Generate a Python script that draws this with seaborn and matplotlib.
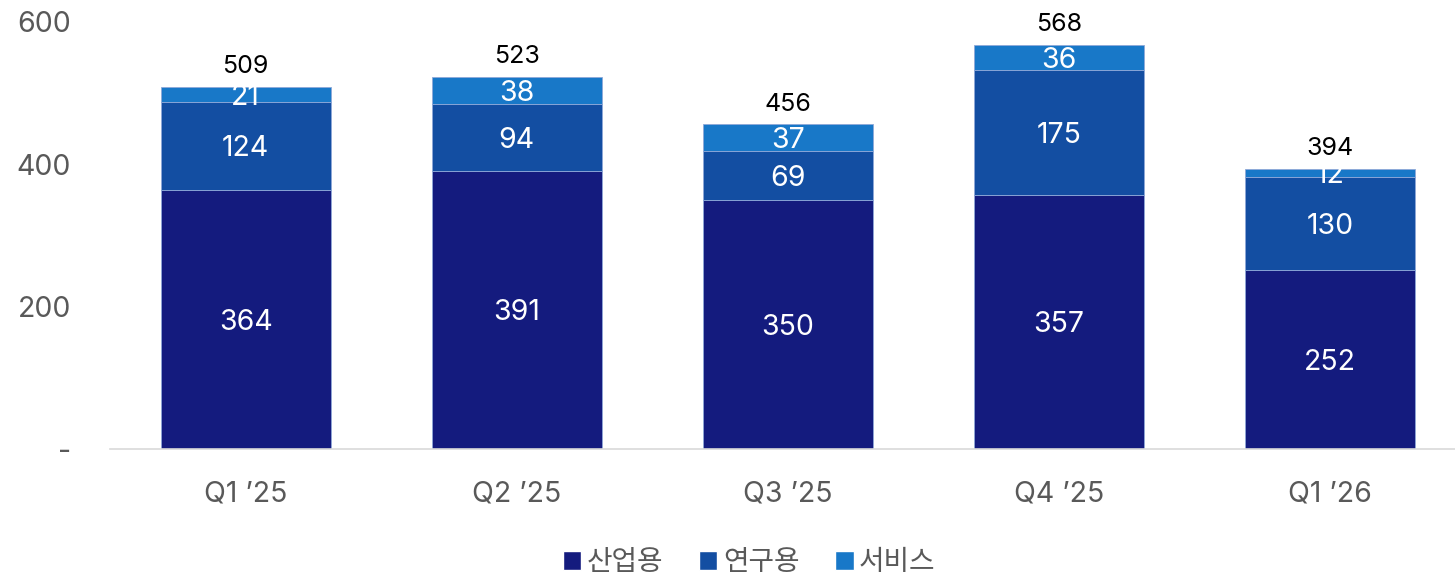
import matplotlib
matplotlib.use("Agg")
import matplotlib.pyplot as plt
import seaborn as sns
import pandas as pd
import numpy as np
from matplotlib.patches import Patch

# 데이터
quarters = ["Q1 \u201925", "Q2 \u201925", "Q3 \u201925", "Q4 \u201925", "Q1 \u201926"]
industrial = [364, 391, 350, 357, 252]   # 산업용
research = [124, 94, 69, 175, 130]       # 연구용
service = [21, 38, 37, 36, 12]           # 서비스
series_names = ["산업용", "연구용", "서비스"]
colors = ["#141B7E", "#134EA2", "#1878C8"]

df = pd.DataFrame({"quarter": quarters, "산업용": industrial,
                   "연구용": research, "서비스": service})

sns.set_style("white")
plt.rcParams["font.family"] = ["Inter", "Noto Sans CJK KR", "DejaVu Sans"]

fig = plt.figure(figsize=(14.55, 5.78), dpi=100)
ax = fig.add_axes([110 / 1455, 1 - 449 / 578, 1 - 110 / 1455, (449 - 22) / 578])

# 누적 막대
bottom = np.zeros(len(df))
for name, col in zip(series_names, colors):
    sns.barplot(data=df, x="quarter", y=name, bottom=bottom, color=col,
                width=0.627, edgecolor="#8FA8D8", linewidth=0.6,
                saturation=1, ax=ax)
    vals = df[name].values
    for i, v in enumerate(vals):
        ax.text(i, bottom[i] + v / 2, f"{v}", ha="center", va="center_baseline",
                color="white", fontsize=20.5)
    bottom = bottom + vals

# 합계
for i, t in enumerate(bottom):
    ax.annotate(f"{int(t)}", (i, t), xytext=(0, 16.5), textcoords="offset points",
                ha="center", va="center_baseline", fontsize=18, color="black")

ax.set_ylim(0, 600)
ax.set_xlim(-0.5, 4.46)
ax.set_yticks([0, 200, 400, 600])
ax.set_yticklabels(["-", "200", "400", "600"])
ax.set_xlabel("")
ax.set_ylabel("")
ax.tick_params(axis="y", length=0, pad=28, labelsize=20.5, labelcolor="#595959")
ax.tick_params(axis="x", length=0, pad=23, labelsize=20.5, labelcolor="#595959")
for s in ["top", "right", "left"]:
    ax.spines[s].set_visible(False)
ax.spines["bottom"].set_color("#D9D9D9")
ax.spines["bottom"].set_linewidth(1.2)

handles = [Patch(facecolor=c, label=n) for n, c in zip(series_names, colors)]
fig.legend(handles=handles, loc="center", bbox_to_anchor=(0.515, 1 - 563 / 578),
           ncol=3, frameon=False, fontsize=20, handlelength=0.65, handleheight=0.65,
           handletextpad=0.2, columnspacing=1.3, labelcolor="#595959")

fig.savefig("out.png", dpi=100)
